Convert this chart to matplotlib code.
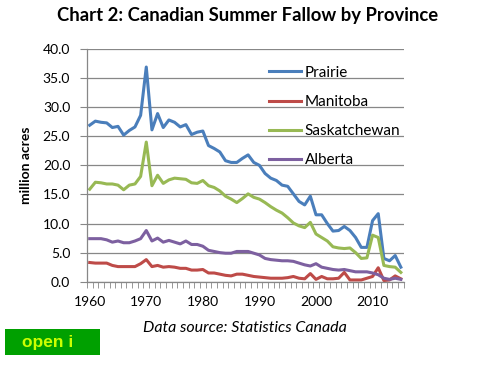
import matplotlib
matplotlib.use("Agg")
import matplotlib.pyplot as plt
import numpy as np
from matplotlib.patches import Rectangle

plt.rcParams['font.family'] = ['Lato', 'DejaVu Sans']

years = list(range(1960, 2016))

prairie = [26.9, 27.6, 27.4, 27.3, 26.5, 26.7, 25.2, 26.0, 26.6, 28.6,
           36.9, 26.1, 28.9, 26.5, 27.8, 27.4, 26.6, 27.0, 25.3, 25.7,
           25.9, 23.4, 22.9, 22.3, 20.8, 20.5, 20.5, 21.2, 21.8, 20.5,
           20.0, 18.6, 17.8, 17.4, 16.6, 16.4, 15.1, 13.8, 13.2, 14.7,
           11.5, 11.5, 10.0, 8.7, 8.8, 9.5, 8.8, 7.6, 5.9, 5.9,
           10.5, 11.7, 4.0, 3.6, 4.5, 2.5]
manitoba = [3.3, 3.2, 3.2, 3.2, 2.8, 2.6, 2.6, 2.6, 2.6, 3.1,
            3.8, 2.6, 2.8, 2.5, 2.6, 2.5, 2.3, 2.3, 2.0, 2.0,
            2.1, 1.5, 1.5, 1.3, 1.1, 1.0, 1.3, 1.3, 1.1, 0.9,
            0.8, 0.7, 0.6, 0.6, 0.6, 0.7, 0.9, 0.6, 0.5, 1.4,
            0.4, 0.9, 0.5, 0.5, 0.6, 1.6, 0.3, 0.3, 0.3, 0.6,
            0.9, 2.4, 0.2, 0.3, 1.0, 0.5]
saskatchewan = [15.9, 17.1, 17.0, 16.8, 16.8, 16.6, 15.8, 16.6, 16.8, 18.1,
                24.0, 16.5, 18.3, 16.9, 17.5, 17.8, 17.7, 17.6, 17.0, 16.9,
                17.4, 16.5, 16.2, 15.6, 14.7, 14.2, 13.6, 14.3, 15.1, 14.5,
                14.2, 13.6, 12.9, 12.3, 11.8, 11.0, 10.1, 9.6, 9.3, 10.2,
                8.2, 7.6, 7.0, 6.0, 5.8, 5.7, 5.8, 5.0, 4.0, 4.1,
                8.0, 7.6, 2.8, 2.6, 2.5, 1.6]
alberta = [7.4, 7.4, 7.4, 7.2, 6.8, 7.0, 6.7, 6.7, 7.0, 7.4,
           8.8, 7.0, 7.5, 6.8, 7.1, 6.8, 6.5, 7.0, 6.4, 6.4,
           6.1, 5.4, 5.2, 5.0, 4.9, 4.9, 5.2, 5.2, 5.2, 4.9,
           4.6, 4.0, 3.8, 3.7, 3.6, 3.6, 3.5, 3.2, 2.9, 2.7,
           3.1, 2.5, 2.3, 2.1, 2.0, 2.1, 1.9, 1.7, 1.7, 1.7,
           1.5, 1.2, 0.6, 0.4, 0.6, 0.4]

series = [("Prairie", prairie, "#4a7ebb"),
          ("Manitoba", manitoba, "#be4b48"),
          ("Saskatchewan", saskatchewan, "#98b954"),
          ("Alberta", alberta, "#7d60a0")]

fig = plt.figure(figsize=(4.8, 3.7), dpi=100)
ax = fig.add_axes([0.181, 0.2386, 0.66, 0.629])

for name, vals, col in series:
    ax.plot(years, vals, color=col, lw=2.2, label=name, solid_joinstyle='round')

ax.set_xlim(1959.5, 2015.5)
ax.set_ylim(0, 40)
ax.set_yticks(np.arange(0, 41, 5))
ax.set_yticklabels(["%.1f" % v for v in np.arange(0, 41, 5)], fontsize=10)
ax.yaxis.grid(True, color="#878787", lw=0.9)
ax.set_axisbelow(True)

ax.set_xticks(range(1960, 2016, 10))
ax.set_xticklabels([str(y) for y in range(1960, 2016, 10)], fontsize=10)
ax.set_xticks(np.arange(1959.5, 2016, 1), minor=True)
ax.tick_params(axis='x', which='major', length=0, pad=10)
ax.tick_params(axis='x', which='minor', length=4, color="#878787", direction='out')
ax.tick_params(axis='y', length=5, color="#878787", pad=7)

for s in ['top', 'right']:
    ax.spines[s].set_visible(False)
for s in ['left', 'bottom']:
    ax.spines[s].set_color("#878787")
    ax.spines[s].set_linewidth(0.9)

ax.set_ylabel("million acres", fontsize=10, fontweight='bold', labelpad=8)

ax.legend(loc='upper left', bbox_to_anchor=(0.555, 0.955), frameon=False,
          fontsize=11, handlelength=2.1, handletextpad=0.25, labelspacing=1.0,
          borderaxespad=0)

fig.text(0.515, 0.957, "Chart 2: Canadian Summer Fallow by Province",
         ha='center', va='center', fontsize=13.3, fontweight='bold')
fig.text(0.51, 0.113, "Data source: Statistics Canada",
         ha='center', va='center', fontsize=11.5, style='italic')

fig.patches.append(Rectangle((5 / 480, 1 - 355 / 370), 95 / 480, 26 / 370,
                             transform=fig.transFigure, facecolor="#00a000",
                             edgecolor='none'))
fig.text(0.1, 1 - 342 / 370, "open i", ha='center', va='center',
         fontsize=12.5, fontweight='bold', color="#ccff00",
         family=['Liberation Sans', 'DejaVu Sans'])

fig.savefig("out.png", dpi=100)
